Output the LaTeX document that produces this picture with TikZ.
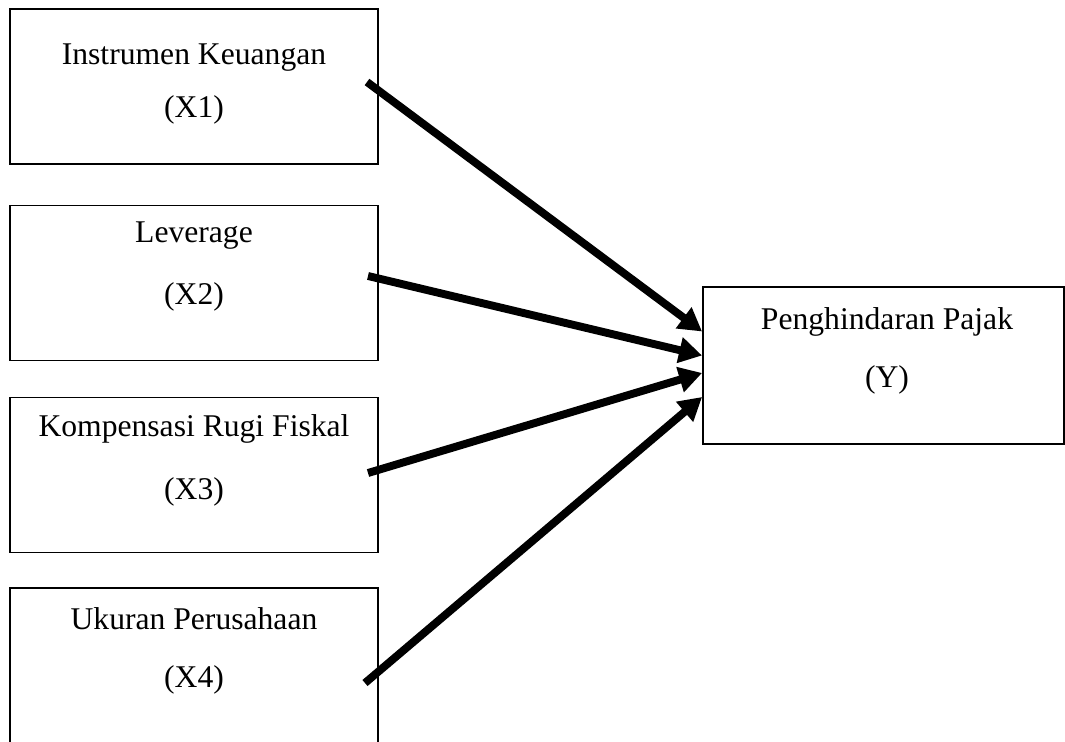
\documentclass[tikz,border=0pt]{standalone}
\usepackage{fontspec}
\setmainfont{Liberation Serif}
\usetikzlibrary{arrows.meta,calc}
\begin{document}
\begin{tikzpicture}[x=0.02cm,y=-0.02cm]
    \tikzstyle{box}=[draw=black,line width=1.1pt,rectangle,inner sep=0pt,minimum width=7.37cm,minimum height=3.1cm]
    \tikzstyle{txt}=[anchor=base,inner sep=0pt,font=\fontsize{18}{22}\selectfont]
    \tikzstyle{arr}=[line width=4.5pt,-{Triangle[length=0.46cm,width=0.5cm]}]

    \useasboundingbox (0,0) rectangle (1065,742);

    \node[box] at (193.75,86.75) (x1) {};
    \node[box] at (193.75,283) (x2) {};
    \node[box] at (193.75,475) (x3) {};
    \node[box,minimum height=3.14cm] at (193.75,666.5) (x4) {};
    \node[box,minimum width=7.22cm,minimum height=3.14cm] at (883.5,365.5) (y) {};

    \node[txt] at (194,65) (t1) {Instrumen Keuangan};
    \node[txt] at (194,118) (n1) {(X1)};
    \node[txt] at (194,243) (t2) {Leverage};
    \node[txt] at (194,305) (n2) {(X2)};
    \node[txt] at (194,437) (t3) {Kompensasi Rugi Fiskal};
    \node[txt] at (194,500) (n3) {(X3)};
    \node[txt] at (194,630) (t4) {Ukuran Perusahaan};
    \node[txt] at (194,688) (n4) {(X4)};
    \node[txt] at (887,330) (ty) {Penghindaran Pajak};
    \node[txt] at (887,388) (ny) {(Y)};

    \coordinate (s1) at (367,82);
    \coordinate (s2) at (368,276);
    \coordinate (s3) at (368,473);
    \coordinate (s4) at (365,683);

    \draw[arr] (s1) -- ($(y.west)+(0,-34)$);
    \draw[arr] (s2) -- ($(y.west)+(0,-10)$);
    \draw[arr] (s3) -- ($(y.west)+(0,7.5)$);
    \draw[arr] (s4) -- ($(y.west)+(0,31.5)$);
\end{tikzpicture}
\end{document}
